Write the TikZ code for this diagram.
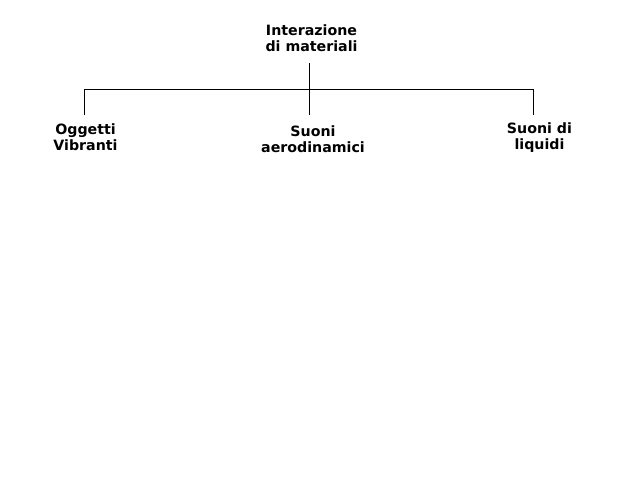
\documentclass[tikz,border=0pt]{standalone}
\usepackage{fontspec}
\setmainfont{DejaVu Sans}
\begin{document}
\begin{tikzpicture}[x=1pt,y=-1pt,
  label/.style={font=\bfseries\fontsize{14.2}{16}\selectfont, align=center,
    inner sep=0pt, anchor=base},
  link/.style={line width=1pt, black}]
  \useasboundingbox[fill=white] (0,0) rectangle (640,480);

  % text blocks (anchored at the last line's baseline)
  \node[label] (root) at (311.5,51.5) {Interazione\\di materiali};
  \node[label] (ogg)  at (85.5,150.5) {Oggetti\\Vibranti};
  \node[label] (aero) at (313,152) {Suoni\\aerodinamici};
  \node[label] (liq)  at (539.5,149.5) {Suoni di\\liquidi};

  % tree connector points
  \coordinate (rootfoot) at (309.5,63);
  \coordinate (hub)      at (309.5,89.5);
  \coordinate (oggtop)   at (84.5,115);
  \coordinate (aerotop)  at (309.5,115);
  \coordinate (liqtop)   at (533.5,115);

  \draw[link] (rootfoot) -- (aerotop);
  \draw[link] (oggtop) |- (hub) -| (liqtop);
\end{tikzpicture}
\end{document}
